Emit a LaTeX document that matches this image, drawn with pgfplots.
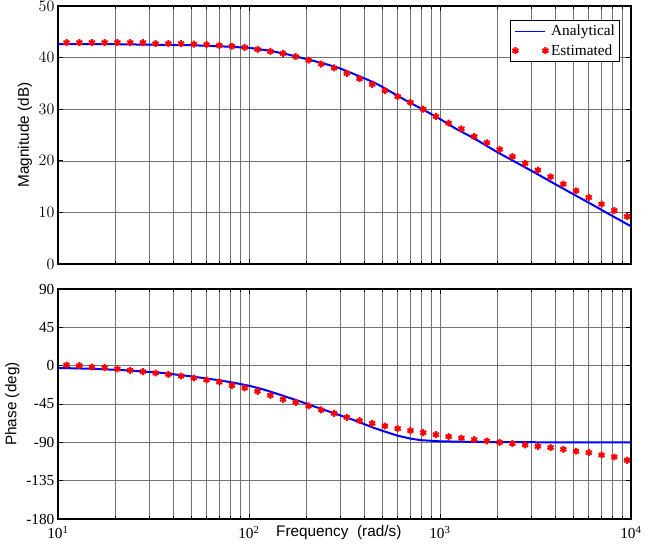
\documentclass[border=0pt]{standalone}
\usepackage{pgfplots}
\pgfplotsset{compat=1.18}
\usepackage{fontspec}
\setmainfont{Liberation Serif}
\newfontfamily\arial{Liberation Sans}

% estimated points: frequency, magnitude (dB), phase (deg)
\pgfplotstableread{
f mag phase
11.08 42.9 0.8
12.92 42.9 0.0
15.06 42.9 -1.6
17.56 42.9 -2.3
20.47 42.9 -3.9
23.87 42.9 -5.5
27.83 42.9 -7.0
32.45 42.7 -8.6
37.83 42.7 -10.2
44.11 42.7 -12.1
51.43 42.6 -14.5
59.96 42.5 -16.8
69.9 42.35 -19.2
81.5 42.2 -23.1
95.0 41.97 -26.2
110.8 41.6 -30.1
129.3 41.2 -34.8
150.7 40.8 -39.5
175.7 40.2 -43.0
204.9 39.5 -47.3
238.9 38.75 -52.0
278.7 38.0 -56.0
325 36.95 -60.6
379 35.9 -64.6
441.6 34.8 -67.7
515 33.6 -70.8
600.8 32.45 -73.9
700.4 31.3 -76.3
816.6 30.0 -78.6
952 28.6 -81.0
1110 27.3 -83.3
1295 26.2 -84.9
1510 24.7 -86.9
1760 23.5 -88.4
2052 22.2 -90.0
2393 20.8 -91.5
2790 19.5 -93.1
3253 18.2 -94.7
3793 16.9 -96.2
4422 15.5 -98.2
5156 14.2 -100.5
6013 12.9 -102.1
7010 11.6 -104.9
8173 10.35 -107.2
9529 9.2 -111.1
}\estimated

\pgfplotstableread{
f mag
10 42.6
20 42.6
30 42.5
50 42.4
70 42.2
100 41.9
130 41.3
160 40.6
200 39.7
250 38.8
300 37.9
350 36.9
400 36.0
450 35.2
500 34.3
600 32.6
700 31.2
800 30.1
1000 28.1
1200 26.3
1500 24.4
2000 21.65
3000 18.1
4000 15.5
5000 13.5
6000 11.9
7000 10.5
8000 9.3
10000 7.3
}\anamag

\pgfplotstableread{
f phase
10 -2.7
15 -3.6
23 -5.5
35 -8.5
50 -12.6
70 -17.2
85 -20.4
100 -23.6
115 -27
130 -30.6
150 -35.2
180 -41
220 -48
280 -56
350 -63.5
400 -68.5
450 -73
516 -77.5
596 -82
700 -85.7
800 -87.5
1000 -88.8
1500 -89.5
3000 -89.9
10000 -90
}\anaphase

\pgfplotsset{
  bode/.style={
    scale only axis,
    width=429.75pt,
    xmin=10, xmax=10000,
    xtick={10,100,1000,10000},
    minor xtick={20,30,40,50,60,70,80,90,200,300,400,500,600,700,800,900,2000,3000,4000,5000,6000,7000,8000,9000},
    grid=both,
    major grid style={black!55, line width=0.4pt},
    minor grid style={black!55, line width=0.4pt},
    axis line style={black, line width=0.9pt},
    tick align=inside,
    tick style={black, line width=0.5pt},
    major tick length=4pt,
    minor tick length=2.5pt,
    tick label style={font=\fontsize{11.5}{13}\selectfont},
    label style={font=\arial\fontsize{11.5}{13}\selectfont},
    yticklabel style={inner xsep=2.5pt},
  },
}

\begin{document}
\begin{tikzpicture}
\begin{semilogxaxis}[
  bode,
  name=top,
  height=193.5pt,
  ymin=0, ymax=50,
  ytick={0,10,20,30,40,50},
  xticklabels={},
  ylabel={Magnitude (dB)},
  ylabel style={at={(axis description cs:-0.037,0.5)}, anchor=south},
  legend style={at={(rel axis cs:1,1)}, anchor=north east, xshift=-8.25pt, yshift=-10.5pt,
    draw=black, line width=0.6pt, fill=white,
    font=\fontsize{11.5}{13}\selectfont, inner sep=1.5pt, row sep=1pt},
  legend cell align=left,
]
\addplot[blue, line width=1.5pt,
  legend image code/.code={\draw[blue, line width=0.6pt] (0pt,0pt) -- (22.5pt,0pt);}]
  table[x=f, y=mag] {\anamag};
\addlegendentry{Analytical}
\addplot[only marks, mark=asterisk, red, mark size=2.6pt, line width=1.5pt,
  legend image code/.code={\draw[only marks] plot coordinates {(0pt,0pt) (22.5pt,0pt)};}]
  table[x=f, y=mag] {\estimated};
\addlegendentry{Estimated}
\end{semilogxaxis}

\begin{semilogxaxis}[
  bode,
  name=bot,
  at={(top.south west)}, anchor=north west, yshift=-18.75pt,
  height=172.5pt,
  ymin=-180, ymax=90,
  ytick={-180,-135,-90,-45,0,45,90},
  yticklabels={-180,-135,-90,-45,0,45,90},
  xticklabels={10\textsuperscript{1},10\textsuperscript{2},10\textsuperscript{3},10\textsuperscript{4}},
  xticklabel style={anchor=base, yshift=-15pt},
  ylabel={Phase (deg)},
  ylabel style={at={(axis description cs:-0.059,0.5)}, anchor=south},
  xlabel={Frequency\ \ (rad/s)},
  xlabel style={at={(axis description cs:0.49,0)}, anchor=base, yshift=-13.5pt},
]
\addplot[blue, line width=1.5pt] table[x=f, y=phase] {\anaphase};
\addplot[only marks, mark=asterisk, red, mark size=2.6pt, line width=1.5pt]
  table[x=f, y=phase] {\estimated};
\end{semilogxaxis}

\pgfresetboundingbox
\path[use as bounding box] ([shift={(-43.5pt,4.5pt)}]top.north west)
  rectangle ([shift={(27.75pt,-22.5pt)}]bot.south east);
\end{tikzpicture}
\end{document}
